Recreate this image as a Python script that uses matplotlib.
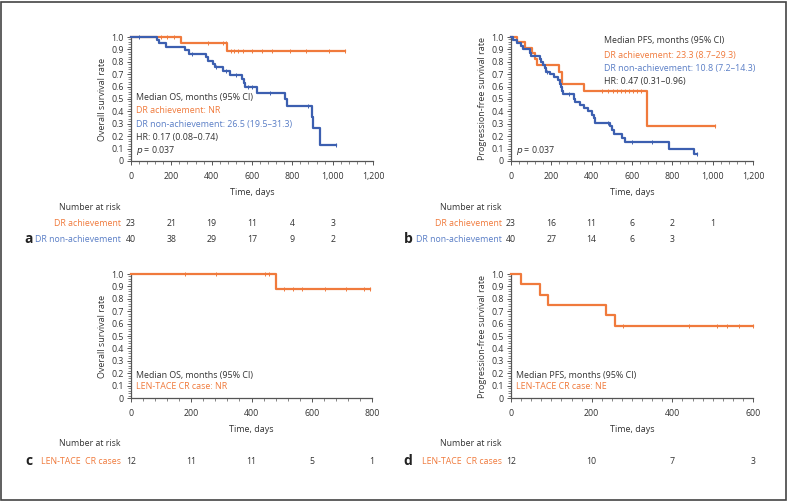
import numpy as np
import matplotlib.pyplot as plt
from matplotlib.ticker import MultipleLocator, FuncFormatter
from matplotlib.patches import Rectangle

plt.rcParams['font.family'] = ['Open Sans', 'DejaVu Sans']

ORANGE = '#f07a3c'
BLUE = '#3c5fb0'
BLUE_TXT = '#5a7ec6'
GREY = '#333333'

# ---- panel a : OS by DR achievement ----
a_or_t = [0, 248, 477]
a_or_s = [1.0, 0.955, 0.885]
a_or_end = 1062
a_or_cens = [150, 180, 215, 380, 455, 470, 495, 510, 530, 555, 600, 650, 700, 790, 870, 980, 1062]

a_bl_t = [0, 128, 140, 175, 270, 288, 372, 380, 408, 415, 455, 490, 548, 560, 565, 623, 763, 775, 898, 903, 936]
a_bl_s = [1.0, 0.975, 0.95, 0.92, 0.895, 0.866, 0.84, 0.81, 0.785, 0.755, 0.724, 0.69, 0.665, 0.63, 0.595, 0.55, 0.5, 0.442, 0.355, 0.263, 0.132]
a_bl_end = 1015
a_bl_cens = [40, 300, 420, 470, 520, 580, 600, 690, 880, 1015]

# ---- panel b : PFS by DR achievement ----
b_or_t = [0, 30, 71, 104, 121, 129, 236, 253, 364, 674]
b_or_s = [1.0, 0.957, 0.913, 0.87, 0.826, 0.777, 0.72, 0.624, 0.567, 0.285]
b_or_end = 1010
b_or_cens = [450, 480, 505, 525, 545, 565, 585, 605, 625, 645, 1010]

b_bl_t = [0, 10, 30, 50, 58, 92, 101, 142, 149, 159, 170, 176, 195, 215, 231, 241, 248, 253, 258,
          311, 319, 344, 360, 380, 402, 413, 418, 493, 501, 512, 550, 567, 782, 906]
b_bl_s = [1.0, 0.975, 0.95, 0.925, 0.9, 0.875, 0.85, 0.825, 0.8, 0.775, 0.75, 0.72, 0.7, 0.675, 0.65,
          0.625, 0.6, 0.565, 0.537, 0.5, 0.475, 0.45, 0.427, 0.4, 0.375, 0.345, 0.31, 0.28, 0.25,
          0.22, 0.185, 0.157, 0.1, 0.054]
b_bl_end = 922
b_bl_cens = [180, 290, 480, 600, 700, 922]

# ---- panel c : OS of LEN-TACE CR cases ----
c_t = [0, 481]
c_s = [1.0, 0.877]
c_end = 795
c_cens = [180, 282, 444, 457, 509, 538, 568, 643, 714, 775, 795]

# ---- panel d : PFS of LEN-TACE CR cases ----
d_t = [0, 25, 71, 91, 235, 258]
d_s = [1.0, 0.917, 0.833, 0.75, 0.667, 0.583]
d_end = 600
d_cens = [278, 441, 510, 535, 565, 600]

# number at risk
a_risk_x = [0, 200, 400, 600, 800, 1000]
a_risk_or = [23, 21, 19, 11, 4, 3]
a_risk_bl = [40, 38, 29, 17, 9, 2]
b_risk_x = [0, 200, 400, 600, 800, 1000]
b_risk_or = [23, 16, 11, 6, 2, 1]
b_risk_bl = [40, 27, 14, 6, 3]
c_risk_x = [0, 200, 400, 600, 800]
c_risk = [12, 11, 11, 5, 1]
d_risk_x = [0, 200, 400, 600]
d_risk = [12, 10, 7, 3]

W, H = 788, 501
fig = plt.figure(figsize=(W / 100, H / 100), dpi=100)
fig.add_artist(Rectangle((1 / W, 1 / H), 1 - 3 / W, 1 - 3 / H, transform=fig.transFigure,
                         fill=False, ec='#444444', lw=1.2))


def make_ax(x0, x1, ytop, ybot):
    return fig.add_axes([x0 / W, 1 - ybot / H, (x1 - x0) / W, (ybot - ytop) / H])


def km(ax, t, s, end, cens, color):
    tt = list(t) + [end]
    ss = list(s) + [s[-1]]
    ax.step(tt, ss, where='post', color=color, lw=1.6, clip_on=False, zorder=3)
    idx = np.searchsorted(t, cens, side='right') - 1
    ax.plot(cens, np.array(s)[idx], ls='none', marker='|', ms=3.5, mew=0.7, color=color,
            clip_on=False, zorder=4)


def style(ax, xmax, xminor, ylabel):
    ax.set_xlim(0, xmax)
    ax.set_ylim(0, 1)
    for sp in ['top', 'right']:
        ax.spines[sp].set_visible(False)
    for sp in ['left', 'bottom']:
        ax.spines[sp].set_color('#555555')
        ax.spines[sp].set_linewidth(0.9)
    ax.xaxis.set_major_locator(MultipleLocator(200))
    ax.xaxis.set_minor_locator(MultipleLocator(xminor))
    ax.yaxis.set_major_locator(MultipleLocator(0.1))
    ax.yaxis.set_minor_locator(MultipleLocator(0.02))
    ax.xaxis.set_major_formatter(FuncFormatter(lambda v, p: f'{int(v):,}'))
    ax.yaxis.set_major_formatter(FuncFormatter(lambda v, p: '0' if abs(v) < 1e-9 else f'{v:.1f}'))
    ax.tick_params(which='major', length=3, width=0.7, color='#555555', labelsize=6.3,
                   labelcolor=GREY, pad=2)
    ax.tick_params(which='minor', length=2, width=0.5, color='#555555')
    ax.tick_params(axis='x', pad=5)
    ax.set_xlabel('Time, days', fontsize=6.5, color=GREY, labelpad=5)
    ax.set_ylabel(ylabel, fontsize=6.5, color=GREY, labelpad=3)
    ax.patch.set_alpha(0)


def risk_table(ax, xs, rows, label_x, head_y, row_ys, letter, letter_x):
    fig.text(label_x / W, 1 - head_y / H, 'Number at risk', fontsize=6.3, color=GREY,
             ha='right', va='center')
    for (lab, vals, col), ry in zip(rows, row_ys):
        fig.text(label_x / W, 1 - ry / H, lab, fontsize=6.3, color=col, ha='right', va='center')
        for x, v in zip(xs, vals):
            ax.annotate(str(v), xy=(x, 1 - ry / H), xycoords=('data', 'figure fraction'),
                        fontsize=6.3, color=GREY, ha='center', va='center', annotation_clip=False)
    fig.text(letter_x / W, 1 - row_ys[-1] / H, letter, fontsize=10, fontweight='bold',
             color='#222222', ha='center', va='center')


# panel a
ax = make_ax(131, 373, 37, 161)
km(ax, a_or_t, a_or_s, a_or_end, a_or_cens, ORANGE)
km(ax, a_bl_t, a_bl_s, a_bl_end, a_bl_cens, BLUE)
style(ax, 1200, 40, 'Overall survival rate')
tx = 0.021
ax.text(tx, 0.512, 'Median OS, months (95% CI)', transform=ax.transAxes, fontsize=6.4, color=GREY, va='center')
ax.text(tx, 0.405, 'DR achievement: NR', transform=ax.transAxes, fontsize=6.4, color=ORANGE, va='center')
ax.text(tx, 0.298, 'DR non-achievement: 26.5 (19.5–31.3)', transform=ax.transAxes, fontsize=6.4, color=BLUE_TXT, va='center')
ax.text(tx, 0.193, 'HR: 0.17 (0.08–0.74)', transform=ax.transAxes, fontsize=6.4, color=GREY, va='center')
ax.text(tx, 0.088, '$p$ = 0.037', transform=ax.transAxes, fontsize=6.4, color=GREY, va='center')
risk_table(ax, a_risk_x, [('DR achievement', a_risk_or, ORANGE), ('DR non-achievement', a_risk_bl, BLUE_TXT)],
           121, 207, [223, 239], 'a', 29)

# panel b
ax = make_ax(511, 753, 37, 161)
km(ax, b_or_t, b_or_s, b_or_end, b_or_cens, ORANGE)
km(ax, b_bl_t, b_bl_s, b_bl_end, b_bl_cens, BLUE)
style(ax, 1200, 40, 'Progression-free survival rate')
tx = 0.383
ax.text(tx, 0.968, 'Median PFS, months (95% CI)', transform=ax.transAxes, fontsize=6.4, color=GREY, va='center')
ax.text(tx, 0.853, 'DR achievement: 23.3 (8.7–29.3)', transform=ax.transAxes, fontsize=6.4, color=ORANGE, va='center')
ax.text(tx, 0.745, 'DR non-achievement: 10.8 (7.2–14.3)', transform=ax.transAxes, fontsize=6.4, color=BLUE_TXT, va='center')
ax.text(tx, 0.642, 'HR: 0.47 (0.31–0.96)', transform=ax.transAxes, fontsize=6.4, color=GREY, va='center')
ax.text(0.021, 0.085, '$p$ = 0.037', transform=ax.transAxes, fontsize=6.4, color=GREY, va='center')
risk_table(ax, b_risk_x, [('DR achievement', b_risk_or, ORANGE), ('DR non-achievement', b_risk_bl, BLUE_TXT)],
           502, 207, [223, 239], 'b', 408)

# panel c
ax = make_ax(131, 372, 274, 398)
km(ax, c_t, c_s, c_end, c_cens, ORANGE)
style(ax, 800, 40, 'Overall survival rate')
ax.text(0.021, 0.183, 'Median OS, months (95% CI)', transform=ax.transAxes, fontsize=6.4, color=GREY, va='center')
ax.text(0.021, 0.089, 'LEN-TACE CR case: NR', transform=ax.transAxes, fontsize=6.4, color=ORANGE, va='center')
risk_table(ax, c_risk_x, [('LEN-TACE  CR cases', c_risk, ORANGE)], 121, 444, [461], 'c', 29)

# panel d
ax = make_ax(511, 753, 274, 398)
km(ax, d_t, d_s, d_end, d_cens, ORANGE)
style(ax, 600, 25, 'Progression-free survival rate')
ax.text(0.021, 0.183, 'Median PFS, months (95% CI)', transform=ax.transAxes, fontsize=6.4, color=GREY, va='center')
ax.text(0.021, 0.089, 'LEN-TACE CR case: NE', transform=ax.transAxes, fontsize=6.4, color=ORANGE, va='center')
risk_table(ax, d_risk_x, [('LEN-TACE  CR cases', d_risk, ORANGE)], 502, 444, [461], 'd', 408)

fig.savefig('out.png', dpi=100)
